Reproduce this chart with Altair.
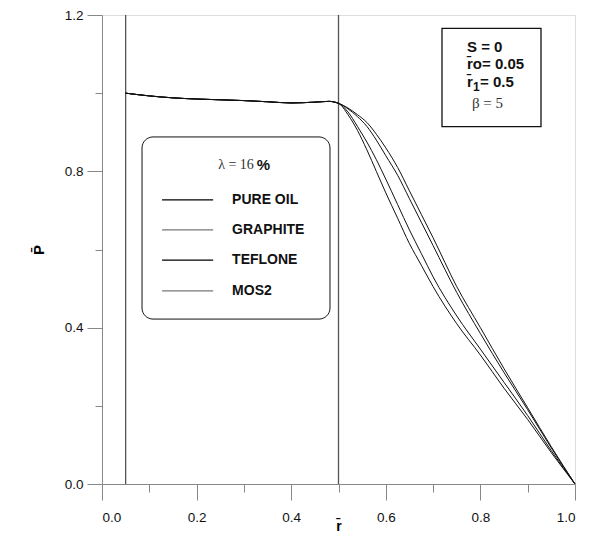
import altair as alt
import pandas as pd

# ---- data ----
series = ["PURE OIL", "GRAPHITE", "TEFLONE", "MOS2"]
r_common = [0.05, 0.1, 0.15, 0.2, 0.25, 0.3, 0.35, 0.4, 0.45, 0.48, 0.5]
p_common = [1.000, 0.993, 0.988, 0.985, 0.983, 0.981, 0.978, 0.975, 0.977, 0.979, 0.974]
r_tail = [0.52, 0.54, 0.56, 0.58, 0.6, 0.625, 0.65, 0.675, 0.7, 0.75, 0.8, 0.85, 0.9, 0.95, 1.0]
p_pure = [0.962, 0.945, 0.925, 0.895, 0.86, 0.81, 0.75, 0.69, 0.63, 0.505, 0.40, 0.295, 0.195, 0.095, 0.0]
p_graphite = [0.960, 0.940, 0.915, 0.880, 0.84, 0.79, 0.73, 0.67, 0.61, 0.49, 0.385, 0.285, 0.19, 0.092, 0.0]
p_teflone = [0.952, 0.915, 0.875, 0.830, 0.78, 0.715, 0.65, 0.59, 0.53, 0.43, 0.345, 0.26, 0.175, 0.085, 0.0]
p_mos2 = [0.945, 0.905, 0.855, 0.800, 0.745, 0.68, 0.615, 0.56, 0.505, 0.41, 0.33, 0.245, 0.165, 0.08, 0.0]
boundaries = [0.05, 0.5]
y_ticks = [0.0, 0.2, 0.4, 0.6, 0.8, 1.0, 1.2]
x_ticks = [0.0, 0.1, 0.2, 0.3, 0.4, 0.5, 0.6, 0.7, 0.8, 0.9, 1.0]
legend_colors = ["#000000", "#777777", "#000000", "#777777"]

tails = [p_pure, p_graphite, p_teflone, p_mos2]
rows = []
for s, tail in zip(series, tails):
    for r, p in zip(r_common + r_tail, p_common + tail):
        rows.append({"series": s, "r": r, "P": p})
df = pd.DataFrame(rows)

FONT = "Liberation Sans"
SERIF = "Liberation Serif"

xscale = alt.Scale(domain=[0, 1.0], nice=False, zero=False)
yscale = alt.Scale(domain=[0, 1.2], nice=False, zero=False)

xaxis = alt.Axis(
    values=x_ticks, grid=False, title="r\u0304",
    labelExpr="round(datum.value*10) % 2 == 0 ? format(datum.value, '.1f') : ''",
    tickSize={"condition": {"test": "round(datum.value*10) % 2 == 0", "value": 16}, "value": 8},
    labelPadding=10, titleY=49, titleBaseline="bottom", titleFontWeight="bold", titleFontSize=14,
    labelFontSize=13.5, labelFont=FONT, labelColor="#111111",
)
yaxis = alt.Axis(
    values=y_ticks, grid=False, title="P\u0304",
    labelExpr="round(datum.value*10) % 4 == 0 ? format(datum.value, '.1f') : ''",
    tickSize={"condition": {"test": "round(datum.value*10) % 4 == 0", "value": 15}, "value": 7},
    labelPadding=4, titlePadding=18, titleFontWeight="bold", titleFontSize=15,
    labelFontSize=13.5, labelFont=FONT, labelColor="#111111",
)

lines = alt.Chart(df).mark_line(color="#111111", strokeWidth=1, interpolate="monotone").encode(
    x=alt.X("r:Q", scale=xscale, axis=xaxis),
    y=alt.Y("P:Q", scale=yscale, axis=yaxis),
    detail="series:N",
)

vlines = alt.Chart(pd.DataFrame({"r": boundaries})).mark_rule(color="#555555", strokeWidth=1.3).encode(
    x=alt.X("r:Q", scale=xscale)
)

# legend box
leg_box = alt.Chart(pd.DataFrame({"x": [0.0846], "x2": [0.482], "y": [0.888], "y2": [0.422]})).mark_rect(
    fill="white", fillOpacity=0, stroke="#111111", strokeWidth=1, cornerRadius=11
).encode(x=alt.X("x:Q", scale=xscale), x2="x2:Q", y=alt.Y("y:Q", scale=yscale), y2="y2:Q")

leg_rows = pd.DataFrame({
    "label": series,
    "y": [0.727, 0.650, 0.573, 0.494],
    "x": [0.127] * 4,
    "x2": [0.235] * 4,
    "tx": [0.275] * 4,
    "color": legend_colors,
})
leg_lines = alt.Chart(leg_rows).mark_rule(strokeWidth=1.3).encode(
    x=alt.X("x:Q", scale=xscale), x2="x2:Q", y=alt.Y("y:Q", scale=yscale),
    color=alt.Color("color:N", scale=None),
)
leg_text = alt.Chart(leg_rows).mark_text(
    align="left", baseline="middle", font=FONT, fontWeight="bold", fontSize=14, color="#111111"
).encode(x=alt.X("tx:Q", scale=xscale), y=alt.Y("y:Q", scale=yscale), text="label:N")

lam = alt.Chart(pd.DataFrame({"x": [0.321], "y": [0.816], "t": ["\u03bb = 16"]})).mark_text(
    align="right", baseline="middle", font=SERIF, fontSize=14, color="#333333"
).encode(x=alt.X("x:Q", scale=xscale), y=alt.Y("y:Q", scale=yscale), text="t:N")
pct = alt.Chart(pd.DataFrame({"x": [0.327], "y": [0.816], "t": ["%"]})).mark_text(
    align="left", baseline="middle", font=FONT, fontWeight="bold", fontSize=15, color="#111111"
).encode(x=alt.X("x:Q", scale=xscale), y=alt.Y("y:Q", scale=yscale), text="t:N")

# info box
info_box = alt.Chart(pd.DataFrame({"x": [0.7188], "x2": [0.9281], "y": [1.166], "y2": [0.9142]})).mark_rect(
    fill="white", fillOpacity=0, stroke="#111111", strokeWidth=1.3
).encode(x=alt.X("x:Q", scale=xscale), x2="x2:Q", y=alt.Y("y:Q", scale=yscale), y2="y2:Q")

info_bold = pd.DataFrame({
    "x": [0.7717, 0.7717, 0.7717, 0.7992],
    "y": [1.1189, 1.0745, 1.0294, 1.0294],
    "t": ["S = 0", "r\u0304o= 0.05", "r\u0304", "= 0.5"],
})
info_text = alt.Chart(info_bold).mark_text(
    align="left", baseline="middle", font=FONT, fontWeight="bold", fontSize=15, color="#111111"
).encode(x=alt.X("x:Q", scale=xscale), y=alt.Y("y:Q", scale=yscale), text="t:N")
sub1 = alt.Chart(pd.DataFrame({"x": [0.7844], "y": [1.017], "t": ["1"]})).mark_text(
    align="left", baseline="middle", font=FONT, fontWeight="bold", fontSize=12, color="#111111"
).encode(x=alt.X("x:Q", scale=xscale), y=alt.Y("y:Q", scale=yscale), text="t:N")
beta = alt.Chart(pd.DataFrame({"x": [0.782], "y": [0.9741], "t": ["\u03b2 = 5"]})).mark_text(
    align="left", baseline="middle", font=SERIF, fontSize=15, color="#333333"
).encode(x=alt.X("x:Q", scale=xscale), y=alt.Y("y:Q", scale=yscale), text="t:N")

chart = alt.layer(
    vlines, lines, leg_box, leg_lines, leg_text, lam, pct, info_box, info_text, sub1, beta
).properties(
    width=473, height=469,
    autosize=alt.AutoSizeParams(type="none"),
    padding={"left": 94, "top": 7, "right": 10, "bottom": 51},
).configure_view(
    stroke="#111111", strokeWidth=1
).configure_axis(
    domainColor="#111111", tickColor="#111111", titleColor="#111111",
    titleFont=FONT, domainWidth=1, tickWidth=1,
).configure(background="white")

chart.save("out.html", embed_options={"renderer": "svg", "actions": False})
